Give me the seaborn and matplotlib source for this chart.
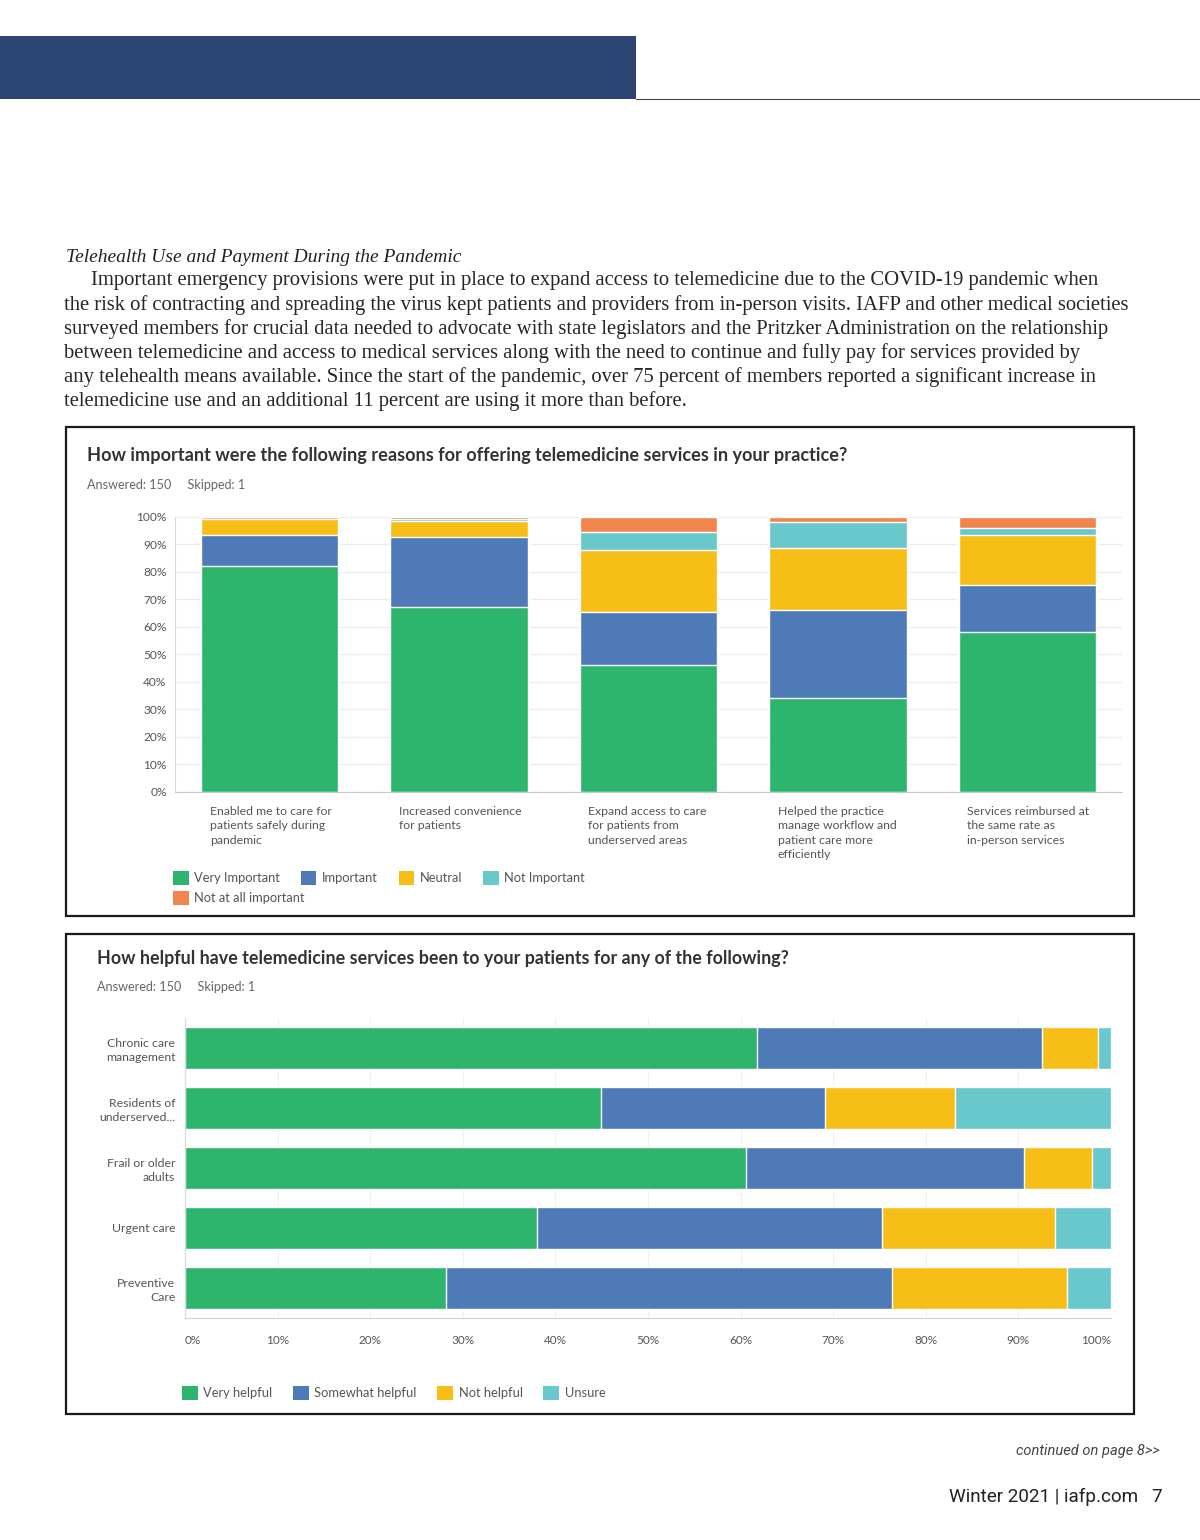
import pandas as pd
import matplotlib
matplotlib.use('Agg')
import matplotlib.pyplot as plt
import matplotlib.patches as mpatches
from matplotlib.transforms import ScaledTranslation
import seaborn as sns

# reasons for offering telemedicine, % of respondents
reasons = ['Enabled me to care for\npatients safely during\npandemic',
           'Increased convenience\nfor patients',
           'Expand access to care\nfor patients from\nunderserved areas',
           'Helped the practice\nmanage workflow and\npatient care more\nefficiently',
           'Services reimbursed at\nthe same rate as\nin-person services']
very_important = [82.0, 67.3, 46.0, 34.0, 58.0]
important = [11.3, 25.3, 19.3, 32.0, 17.3]
neutral = [6.0, 6.0, 22.7, 22.7, 18.0]
not_important = [0.0, 0.7, 6.7, 9.3, 2.7]
not_at_all_important = [0.7, 0.7, 5.3, 2.0, 4.0]
importance_levels = ['Very Important', 'Important', 'Neutral', 'Not Important', 'Not at all important']

# how helpful telemedicine has been, % of respondents
uses = ['Chronic care\nmanagement', 'Residents of\nunderserved...', 'Frail or older\nadults',
        'Urgent care', 'Preventive\nCare']
very_helpful = [61.8, 44.9, 60.6, 38.0, 28.2]
somewhat_helpful = [30.7, 24.2, 30.0, 37.3, 48.2]
not_helpful = [6.1, 14.0, 7.4, 18.7, 18.9]
unsure = [1.4, 16.9, 2.0, 6.0, 4.7]
helpful_levels = ['Very helpful', 'Somewhat helpful', 'Not helpful', 'Unsure']

pct_ticks = list(range(0, 101, 10))

body_title = 'Telehealth Use and Payment During the Pandemic'
body_lines = [
    'Important emergency provisions were put in place to expand access to telemedicine due to the COVID-19 pandemic when',
    'the risk of contracting and spreading the virus kept patients and providers from in-person visits. IAFP and other medical societies',
    'surveyed members for crucial data needed to advocate with state legislators and the Pritzker Administration on the relationship',
    'between telemedicine and access to medical services along with the need to continue and fully pay for services provided by',
    'any telehealth means available. Since the start of the pandemic, over 75 percent of members reported a significant increase in',
    'telemedicine use and an additional 11 percent are using it more than before.',
]

GREEN, BLUE, YELLOW, TEAL, ORANGE = '#2db56e', '#4f7ab8', '#f7be18', '#68c8cb', '#f2854e'
imp_colors = [GREEN, BLUE, YELLOW, TEAL, ORANGE]
help_colors = [GREEN, BLUE, YELLOW, TEAL]

sns.set_style('white')
plt.rcParams['font.family'] = ['Lato', 'DejaVu Sans']

W, H = 1200, 1540
fig = plt.figure(figsize=(W / 100, H / 100), dpi=100)


def px_axes(x0, y0, x1, y1):
    return fig.add_axes([x0 / W, 1 - y1 / H, (x1 - x0) / W, (y1 - y0) / H])


def ftext(x, y, s, **kw):
    fig.text(x / W, 1 - y / H, s, **kw)


def box(x0, y0, x1, y1):
    fig.patches.append(mpatches.Rectangle((x0 / W, 1 - y1 / H), (x1 - x0) / W, (y1 - y0) / H,
                                          transform=fig.transFigure, fill=False,
                                          ec='#1a1a1a', lw=1.6))


# page header band
fig.patches.append(mpatches.Rectangle((0, 1 - 99 / H), 636 / W, 63 / H, transform=fig.transFigure,
                                      fc='#2c4473', ec='none'))
fig.lines.append(plt.Line2D([636 / W, 1], [1 - 99 / H, 1 - 99 / H], transform=fig.transFigure,
                            color='#444444', lw=0.8))

# article text
serif = ['Liberation Serif', 'DejaVu Serif']
ftext(66, 257, body_title, family=serif, style='italic', fontsize=14, color='#222222', va='center')
for i, line in enumerate(body_lines):
    ftext(91 if i == 0 else 64, 281 + i * 24, line, family=serif, fontsize=14.9,
          color='#262626', va='center')

# ---------------- chart 1: stacked columns ----------------
box(66, 427, 1134, 916)
ftext(87, 455, 'How important were the following reasons for offering telemedicine services in your practice?',
      fontsize=13.1, fontweight='bold', color='#333333', va='center')
ftext(87, 485, 'Answered: 150     Skipped: 1', fontsize=9.1, color='#666666', va='center')

imp = pd.DataFrame({'reason': reasons, 'Very Important': very_important, 'Important': important,
                    'Neutral': neutral, 'Not Important': not_important,
                    'Not at all important': not_at_all_important})
imp_cum = imp[importance_levels].cumsum(axis=1)

ax1 = px_axes(175, 517, 1122, 792)
for level, color in reversed(list(zip(importance_levels, imp_colors))):
    sns.barplot(x=imp['reason'], y=imp_cum[level], color=color, width=0.725, saturation=1,
                errorbar=None, ax=ax1)
ax1.set_xlim(-0.5, 4.5)
ax1.set_ylim(0, 100)
ax1.set_xlabel('')
ax1.set_ylabel('')
ax1.set_yticks(pct_ticks)
ax1.set_yticklabels([f'{t}%' for t in pct_ticks])
ax1.yaxis.grid(True, color='#ececec', lw=0.9)
ax1.set_axisbelow(True)
ax1.tick_params(axis='y', length=0, pad=6, labelsize=8.6, labelcolor='#555555')
ax1.tick_params(axis='x', length=0, pad=10, labelsize=8.8, labelcolor='#555555')
for side in ['top', 'right']:
    ax1.spines[side].set_visible(False)
ax1.spines['left'].set_color('#d8d8d8')
ax1.spines['bottom'].set_color('#c8c8c8')
shift = ScaledTranslation(-0.60, 0, fig.dpi_scale_trans)
for lbl in ax1.get_xticklabels():
    lbl.set_ha('left')
    lbl.set_linespacing(1.38)
    lbl.set_transform(lbl.get_transform() + shift)

h1 = [mpatches.Patch(fc=c, ec='none', label=l) for l, c in zip(importance_levels, imp_colors)]
leg_kw = dict(loc='center left', frameon=False, fontsize=9.3, handlelength=1.2, handleheight=1.2,
              handletextpad=0.45, columnspacing=1.6, borderpad=0, borderaxespad=0,
              labelcolor='#555555')
fig.legend(handles=h1[:4], ncol=4, bbox_to_anchor=(173 / W, 1 - 878 / H), **leg_kw)
fig.legend(handles=h1[4:], ncol=1, bbox_to_anchor=(173 / W, 1 - 898 / H), **leg_kw)

# ---------------- chart 2: stacked horizontal bars ----------------
box(66, 934, 1134, 1414)
ftext(97, 958, 'How helpful have telemedicine services been to your patients for any of the following?',
      fontsize=12.9, fontweight='bold', color='#333333', va='center')
ftext(97, 987, 'Answered: 150     Skipped: 1', fontsize=9.1, color='#666666', va='center')

hel = pd.DataFrame({'use': uses, 'Very helpful': very_helpful, 'Somewhat helpful': somewhat_helpful,
                    'Not helpful': not_helpful, 'Unsure': unsure})
hel_cum = hel[helpful_levels].cumsum(axis=1)

ax2 = px_axes(185, 1018, 1111, 1318)
for level, color in reversed(list(zip(helpful_levels, help_colors))):
    sns.barplot(x=hel_cum[level], y=hel['use'], orient='h', color=color, width=0.7, saturation=1,
                errorbar=None, ax=ax2)
ax2.set_xlim(0, 100)
ax2.set_ylim(4.5, -0.5)
ax2.set_xlabel('')
ax2.set_ylabel('')
ax2.set_xticks(pct_ticks)
ax2.set_xticklabels([f'{t}%' for t in pct_ticks])
ax2.xaxis.grid(True, color='#f0f0f0', lw=0.8)
ax2.set_axisbelow(True)
ax2.tick_params(axis='x', length=0, pad=12, labelsize=8.5, labelcolor='#555555')
ax2.tick_params(axis='y', length=0, pad=7, labelsize=8.8, labelcolor='#555555')
for side in ['top', 'right']:
    ax2.spines[side].set_visible(False)
ax2.spines['left'].set_color('#d8d8d8')
ax2.spines['bottom'].set_color('#d0d0d0')
xl = ax2.get_xticklabels()
xl[0].set_ha('left')
xl[-1].set_ha('right')
for lbl in ax2.get_yticklabels():
    lbl.set_linespacing(1.35)

h2 = [mpatches.Patch(fc=c, ec='none', label=l) for l, c in zip(helpful_levels, help_colors)]
fig.legend(handles=h2, ncol=4, bbox_to_anchor=(182 / W, 1 - 1393 / H), **leg_kw)

# page footer
ftext(1160, 1451, 'continued on page 8>>', family=['Roboto', 'DejaVu Sans'], style='italic',
      fontsize=10.5, color='#444444', ha='right', va='center')
ftext(1163, 1497, 'Winter 2021 | iafp.com   7', family=['Roboto', 'DejaVu Sans'], fontsize=13.6,
      color='#222222', ha='right', va='center')

fig.savefig('out.png', dpi=100, facecolor='white')
